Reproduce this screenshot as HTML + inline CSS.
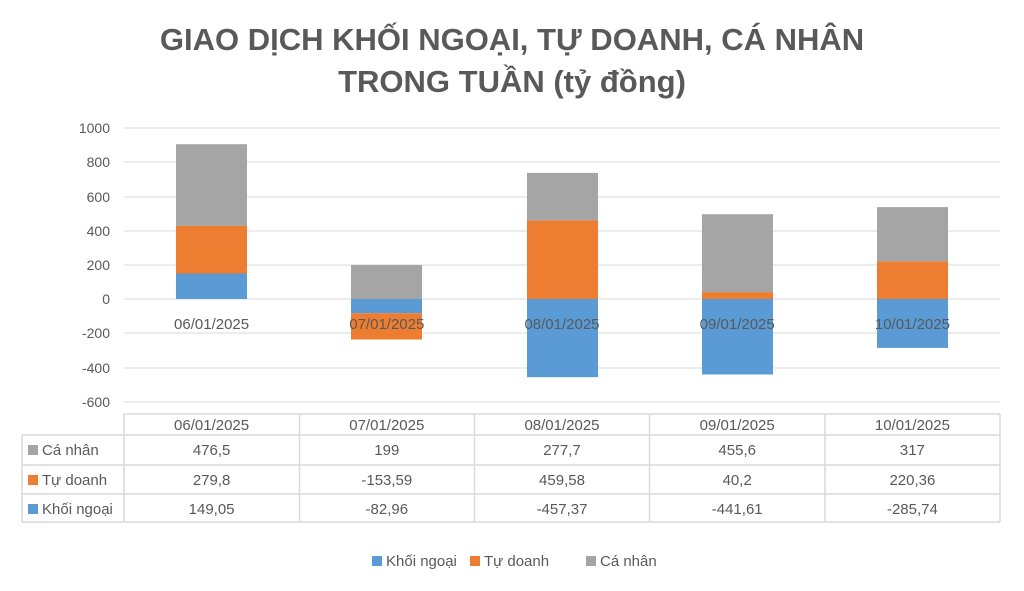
<!DOCTYPE html>
<html><head><meta charset="utf-8"><style>
body{margin:0;background:#fff;}
svg{display:block;font-family:"Liberation Sans",sans-serif;}
</style></head><body>
<svg width="1024" height="591" viewBox="0 0 1024 591">
<text x="512" y="50" text-anchor="middle" font-size="31" font-weight="bold" fill="#595959">GIAO DỊCH KHỐI NGOẠI, TỰ DOANH, CÁ NHÂN</text>
<text x="512" y="92" text-anchor="middle" font-size="31" font-weight="bold" fill="#595959">TRONG TUẦN (tỷ đồng)</text>
<g stroke="#d9d9d9" stroke-width="1">
<line x1="124" x2="1000" y1="128" y2="128"/><line x1="124" x2="1000" y1="162" y2="162"/>
<line x1="124" x2="1000" y1="197" y2="197"/><line x1="124" x2="1000" y1="231" y2="231"/>
<line x1="124" x2="1000" y1="265" y2="265"/><line x1="124" x2="1000" y1="299" y2="299"/>
<line x1="124" x2="1000" y1="333" y2="333"/><line x1="124" x2="1000" y1="368" y2="368"/>
<line x1="124" x2="1000" y1="402" y2="402"/>
</g>
<g font-size="14" fill="#595959" text-anchor="end">
<text x="110" y="133">1000</text><text x="110" y="167">800</text><text x="110" y="202">600</text>
<text x="110" y="236">400</text><text x="110" y="270">200</text><text x="110" y="304">0</text>
<text x="110" y="338">-200</text><text x="110" y="373">-400</text><text x="110" y="407">-600</text>
</g>
<g>
<rect x="176" y="273.5" width="71" height="25.5" fill="#5B9BD5"/><rect x="176" y="225.7" width="71" height="47.8" fill="#ED7D31"/><rect x="176" y="144.2" width="71" height="81.5" fill="#A5A5A5"/>
<rect x="351" y="265" width="71" height="34" fill="#A5A5A5"/><rect x="351" y="299" width="71" height="14.2" fill="#5B9BD5"/><rect x="351" y="313.2" width="71" height="26.3" fill="#ED7D31"/>
<rect x="527" y="220.4" width="71" height="78.6" fill="#ED7D31"/><rect x="527" y="172.9" width="71" height="47.5" fill="#A5A5A5"/><rect x="527" y="299" width="71" height="78.2" fill="#5B9BD5"/>
<rect x="702" y="292.1" width="71" height="6.9" fill="#ED7D31"/><rect x="702" y="214.2" width="71" height="77.9" fill="#A5A5A5"/><rect x="702" y="299" width="71" height="75.5" fill="#5B9BD5"/>
<rect x="877" y="261.3" width="71" height="37.7" fill="#ED7D31"/><rect x="877" y="207.1" width="71" height="54.2" fill="#A5A5A5"/><rect x="877" y="299" width="71" height="48.9" fill="#5B9BD5"/>
</g>
<g font-size="15" fill="#595959" text-anchor="middle">
<text x="211.6" y="329">06/01/2025</text><text x="386.8" y="329">07/01/2025</text><text x="562" y="329">08/01/2025</text><text x="737.2" y="329">09/01/2025</text><text x="912.4" y="329">10/01/2025</text>
</g>
<g stroke="#d9d9d9" stroke-width="1.5" fill="none">
<line x1="124" x2="1000" y1="414" y2="414"/>
<line x1="22" x2="1000" y1="435" y2="435"/>
<line x1="22" x2="1000" y1="465" y2="465"/>
<line x1="22" x2="1000" y1="494" y2="494"/>
<line x1="22" x2="1000" y1="522" y2="522"/>
<line x1="22" x2="22" y1="435" y2="522"/>
<line x1="124" x2="124" y1="414" y2="522"/><line x1="299.5" x2="299.5" y1="414" y2="522"/>
<line x1="474.5" x2="474.5" y1="414" y2="522"/><line x1="649.5" x2="649.5" y1="414" y2="522"/>
<line x1="825" x2="825" y1="414" y2="522"/><line x1="1000" x2="1000" y1="414" y2="522"/>
</g>
<g font-size="15" fill="#595959" text-anchor="middle">
<text x="211.6" y="430">06/01/2025</text><text x="386.8" y="430">07/01/2025</text><text x="562" y="430">08/01/2025</text><text x="737.2" y="430">09/01/2025</text><text x="912.4" y="430">10/01/2025</text>
<text x="211.6" y="455">476,5</text><text x="386.8" y="455">199</text><text x="562" y="455">277,7</text><text x="737.2" y="455">455,6</text><text x="912.4" y="455">317</text>
<text x="211.6" y="485">279,8</text><text x="386.8" y="485">-153,59</text><text x="562" y="485">459,58</text><text x="737.2" y="485">40,2</text><text x="912.4" y="485">220,36</text>
<text x="211.6" y="514">149,05</text><text x="386.8" y="514">-82,96</text><text x="562" y="514">-457,37</text><text x="737.2" y="514">-441,61</text><text x="912.4" y="514">-285,74</text>
</g>
<g font-size="15" fill="#595959">
<rect x="28" y="445" width="10" height="10" fill="#A5A5A5"/><text x="42" y="455">Cá nhân</text>
<rect x="28" y="475" width="10" height="10" fill="#ED7D31"/><text x="42" y="485">Tự doanh</text>
<rect x="28" y="504" width="10" height="10" fill="#5B9BD5"/><text x="42" y="514">Khối ngoại</text>
<rect x="372" y="556" width="10" height="10" fill="#5B9BD5"/><text x="386" y="566">Khối ngoại</text>
<rect x="470" y="556" width="10" height="10" fill="#ED7D31"/><text x="484" y="566">Tự doanh</text>
<rect x="586" y="556" width="10" height="10" fill="#A5A5A5"/><text x="600" y="566">Cá nhân</text>
</g>
</svg>
</body></html>
